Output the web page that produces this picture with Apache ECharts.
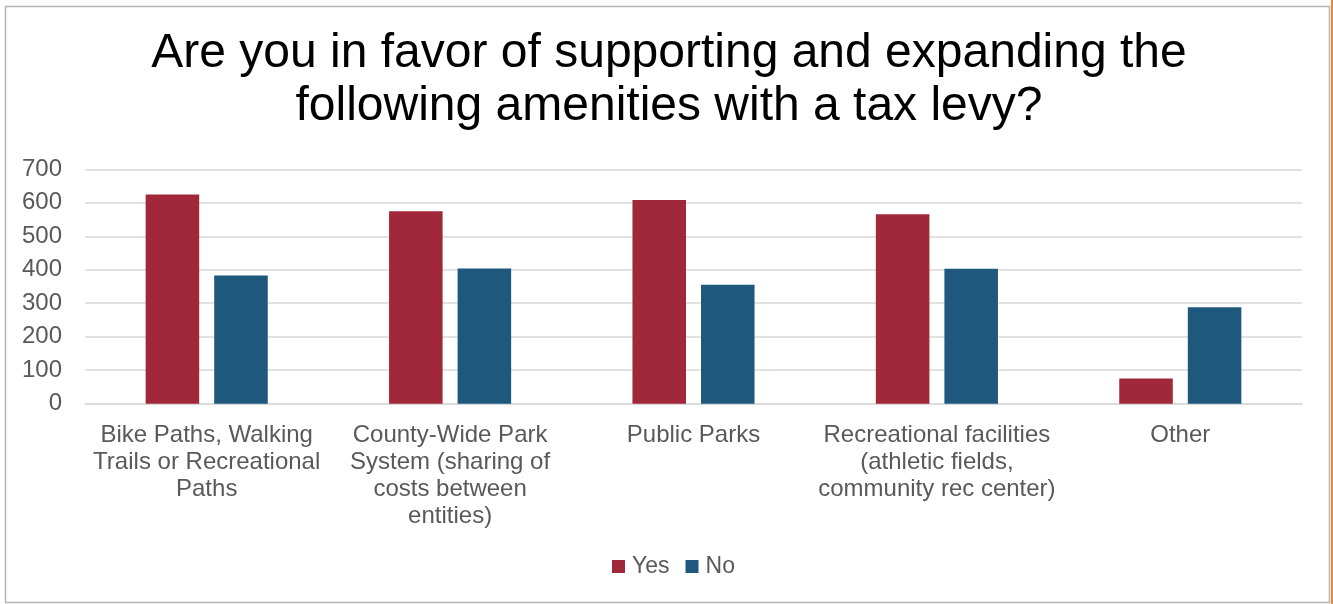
<!DOCTYPE html>
<html>
<head>
<meta charset="utf-8">
<script src="https://cdn.jsdelivr.net/npm/echarts@6/dist/echarts.min.js"></script>
<style>
html,body{margin:0;padding:0;background:#fff;}
#chart{width:1333px;height:604px;}
</style>
</head>
<body>
<div id="chart"></div>
<script>
const titleText = 'Are you in favor of supporting and expanding the\nfollowing amenities with a tax levy?';
const categories = [
  'Bike Paths, Walking\nTrails or Recreational\nPaths',
  'County-Wide Park\nSystem (sharing of\ncosts between\nentities)',
  'Public Parks',
  'Recreational facilities\n(athletic fields,\ncommunity rec center)',
  'Other'
];
const seriesNames = ['Yes', 'No'];
const yesValues = [625, 575, 608, 566, 75];
const noValues = [383, 404, 355, 403, 288];
const yTicks = [0, 100, 200, 300, 400, 500, 600, 700];

const FONT = '"Liberation Sans", Arial, sans-serif';
const chart = echarts.init(document.getElementById('chart'), null, {renderer: 'canvas'});
chart.setOption({
  backgroundColor: '#ffffff',
  animation: false,
  title: {
    text: titleText,
    left: 669,
    top: 27,
    textAlign: 'center',
    padding: 0,
    textStyle: {fontFamily: FONT, fontSize: 48, fontWeight: 'normal', color: '#000000', lineHeight: 53}
  },
  legend: {
    data: seriesNames,
    left: 612,
    top: 555,
    padding: 0,
    icon: 'rect',
    itemWidth: 13,
    itemHeight: 13,
    itemGap: 16,
    textStyle: {fontFamily: FONT, fontSize: 23, color: '#595959', padding: [0, 0, 0, 2]}
  },
  grid: {left: 85, right: 31, top: 169.3, bottom: 200.3, containLabel: false},
  xAxis: {
    type: 'category',
    data: categories,
    axisTick: {show: false},
    axisLine: {show: true, lineStyle: {color: '#d9d9d9', width: 1.5}},
    axisLabel: {interval: 0, margin: 18, fontFamily: FONT, fontSize: 24, color: '#595959', lineHeight: 27, align: 'center', verticalAlign: 'top'}
  },
  yAxis: {
    type: 'value',
    min: yTicks[0],
    max: yTicks[yTicks.length - 1],
    interval: 100,
    axisLine: {show: false},
    axisTick: {show: false},
    splitLine: {lineStyle: {color: '#d9d9d9', width: 1.5}},
    axisLabel: {margin: 23, fontFamily: FONT, fontSize: 24, color: '#595959', padding: [4, 0, 0, 0]}
  },
  series: [
    {name: seriesNames[0], type: 'bar', data: yesValues, barWidth: '22%', barGap: '28%',
     itemStyle: {color: '#A02838'}},
    {name: seriesNames[1], type: 'bar', data: noValues, barWidth: '22%',
     itemStyle: {color: '#1E587C'}}
  ],
  graphic: [
    {type: 'rect', shape: {x: 5.5, y: 6.5, width: 1324, height: 596}, style: {fill: 'none', stroke: '#b4b4b4', lineWidth: 1.5}, silent: true},
    {type: 'rect', shape: {x: 1331, y: 0, width: 2, height: 604}, style: {fill: '#e08a3c'}, silent: true}
  ]
});
</script>
</body>
</html>
